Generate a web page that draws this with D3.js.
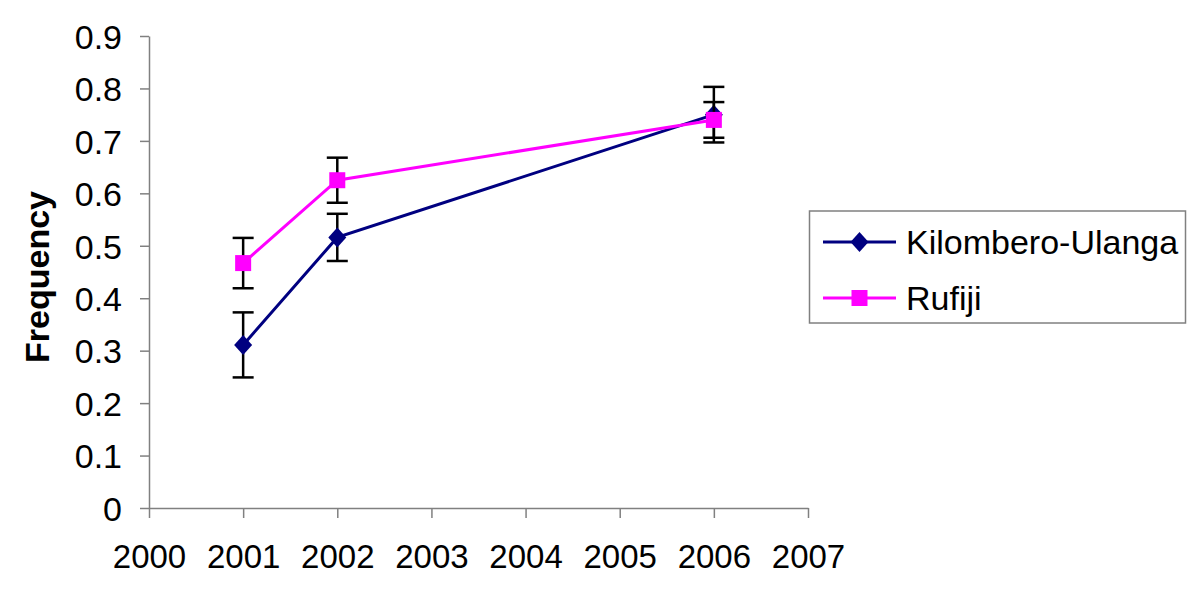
<!DOCTYPE html>
<html>
<head>
<meta charset="utf-8">
<script src="https://cdn.jsdelivr.net/npm/d3@7"></script>
<style>
  body { margin: 0; background: #fff; }
  text { font-family: "Liberation Sans", Arial, sans-serif; fill: #000; }
</style>
</head>
<body>
<div id="content"></div>
<script>
let width = 1200;
let height = 594;
let margin = ({top: 36, right: 392, bottom: 86, left: 149});

// Data
let years = [2001, 2002, 2006];
let xTicks = [2000, 2001, 2002, 2003, 2004, 2005, 2006, 2007];
let yTicks = [0, 0.1, 0.2, 0.3, 0.4, 0.5, 0.6, 0.7, 0.8, 0.9];

let kilombero = [0.311, 0.516, 0.750];
let kilomberoErr = [0.062, 0.045, 0.053];
let rufiji = [0.467, 0.625, 0.740];
let rufijiErr = [0.048, 0.043, 0.034];

let seriesNames = ["Kilombero-Ulanga", "Rufiji"];
let colors = d3.scaleOrdinal()
    .domain(seriesNames)
    .range(["#000080", "#FF00FF"]);

let series = [
  {name: "Kilombero-Ulanga", values: kilombero, err: kilomberoErr, marker: "diamond"},
  {name: "Rufiji", values: rufiji, err: rufijiErr, marker: "square"}
];

let svg = d3.select("#content")
    .append("svg")
    .attr("width", width)
    .attr("height", height);

let xScale = d3.scaleLinear()
    .domain([2000, 2007])
    .range([margin.left, width - margin.right]);

let yScale = d3.scaleLinear()
    .domain([0, 0.9])
    .range([height - margin.bottom, margin.top]);

// Axes
let xAxis = d3.axisBottom(xScale)
    .tickValues(xTicks)
    .tickFormat(d3.format("d"))
    .tickSizeInner(10)
    .tickSizeOuter(0)
    .tickPadding(27);

let yAxis = d3.axisLeft(yScale)
    .tickValues(yTicks)
    .tickFormat(d => d === 0 ? "0" : d3.format(".1f")(d))
    .tickSizeInner(9)
    .tickSizeOuter(0)
    .tickPadding(18);

let gx = svg.append("g")
    .attr("transform", "translate(0," + (height - margin.bottom) + ")")
    .call(xAxis);
gx.selectAll("text").style("font-size", "33px");

let gy = svg.append("g")
    .attr("transform", "translate(" + margin.left + ",0)")
    .call(yAxis);
gy.selectAll("text").style("font-size", "34px").attr("dy", "0.36em");

svg.selectAll(".domain, .tick line")
    .attr("stroke", "#808080")
    .attr("stroke-width", 1.5);

// Y axis title
svg.append("text")
    .attr("transform", "translate(49," + 277 + ") rotate(-90)")
    .attr("text-anchor", "middle")
    .style("font-size", "34px")
    .style("font-weight", "bold")
    .text("Frequency");

let line = d3.line()
    .x((d, i) => xScale(years[i]))
    .y(d => yScale(d));

function drawMarker(g, type, cx, cy, color) {
  if (type === "diamond") {
    g.append("path")
      .attr("d", `M${cx},${cy - 10}L${cx + 9},${cy}L${cx},${cy + 10}L${cx - 9},${cy}Z`)
      .attr("fill", color);
  } else {
    g.append("rect")
      .attr("x", cx - 8).attr("y", cy - 8)
      .attr("width", 16).attr("height", 16)
      .attr("fill", color);
  }
}

series.forEach(function(s) {
  let g = svg.append("g");
  let color = colors(s.name);

  // Error bars
  s.values.forEach(function(v, i) {
    let x = xScale(years[i]);
    let y1 = yScale(v - s.err[i]);
    let y2 = yScale(v + s.err[i]);
    g.append("line").attr("x1", x).attr("x2", x).attr("y1", y1).attr("y2", y2)
      .attr("stroke", "#000").attr("stroke-width", 2.5);
    [y1, y2].forEach(function(y) {
      g.append("line").attr("x1", x - 10.5).attr("x2", x + 10.5).attr("y1", y).attr("y2", y)
        .attr("stroke", "#000").attr("stroke-width", 2.5);
    });
  });

  g.append("path")
    .datum(s.values)
    .attr("d", line)
    .attr("fill", "none")
    .attr("stroke", color)
    .attr("stroke-width", 3);

  s.values.forEach(function(v, i) {
    drawMarker(g, s.marker, xScale(years[i]), yScale(v), color);
  });
});

// Legend
let legend = svg.append("g");
legend.append("rect")
    .attr("x", 809.5).attr("y", 211)
    .attr("width", 376).attr("height", 112)
    .attr("fill", "#fff")
    .attr("stroke", "#808080")
    .attr("stroke-width", 1.5);

series.forEach(function(s, i) {
  let y = 242 + i * 56;
  let color = colors(s.name);
  legend.append("line")
    .attr("x1", 823).attr("x2", 896).attr("y1", y).attr("y2", y)
    .attr("stroke", color).attr("stroke-width", 3);
  drawMarker(legend, s.marker, 859.5, y, color);
  legend.append("text")
    .attr("x", 906).attr("y", y)
    .attr("dy", "0.36em")
    .style("font-size", "34px")
    .text(s.name);
});
</script>
</body>
</html>
